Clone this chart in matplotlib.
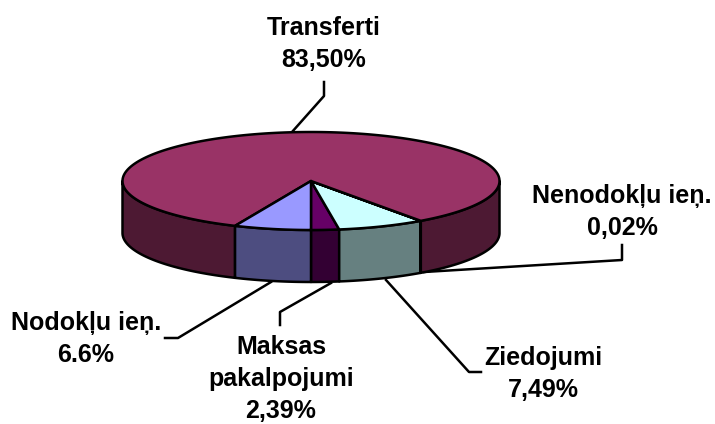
import matplotlib
matplotlib.use("Agg")
import matplotlib.pyplot as plt
import numpy as np

plt.rcParams['font.family'] = ['Liberation Sans', 'DejaVu Sans']

# clockwise order as seen from above, starting at the front of the pie
names = ["Maksas", "Ziedojumi", "Nenodokļu", "Transferti", "Nodokļu"]
values = [2.39, 7.49, 0.02, 83.50, 6.60]
top_colors = ['#660066', '#CCFFFF', '#FFFFCC', '#993366', '#9999FF']
side_colors = ['#330033', '#668080', '#808066', '#4D1933', '#4D4D80']

label_texts = ["Transferti\n83,50%", "Nenodokļu ieņ.\n0,02%", "Ziedojumi\n7,49%",
               "Maksas\npakalpojumi\n2,39%", "Nodokļu ieņ.\n6.6%"]
label_x = [324, 622, 543, 281, 86]
label_y = [44, 212, 374, 379, 339]

# leader lines in pixels
leaders = [
    ([292, 324, 324], [132, 96, 82]),
    ([424, 622, 622], [272, 260, 245]),
    ([386, 469, 481], [280, 372, 372]),
    ([331, 280, 280], [283, 312, 325]),
    ([271, 178, 165], [282, 338, 338]),
]

# pie geometry in pixels
cx, cy = 311, 181
rx, ry = 188.5, 49
depth = 52
lw = 1.8

fig = plt.figure(figsize=(7.15, 4.24), dpi=100)
ax = fig.add_axes([0, 0, 1, 1])
ax.set_xlim(0, 715)
ax.set_ylim(424, 0)
ax.axis('off')


def arc(a, b):
    t = np.radians(np.linspace(a, b, max(int(abs(b - a)) * 2, 2)))
    return cx + rx * np.sin(t), cy + ry * np.cos(t)


def side(a, b, color):
    # only the front half of the rim is visible
    x, y = arc(a, b)
    ax.fill(np.r_[x, x[::-1]], np.r_[y, y[::-1] + depth], facecolor=color,
            edgecolor='black', lw=lw, joinstyle='round', zorder=2)


edges = np.r_[0, np.cumsum(values)] * 3.6

for i in range(len(values)):
    a, b = edges[i], edges[i + 1]
    if a < 90:
        side(a, min(b, 90), side_colors[i])
    if b > 270:
        side(max(a, 270), b, side_colors[i])

for i in range(len(values)):
    x, y = arc(edges[i], edges[i + 1])
    ax.fill(np.r_[cx, x], np.r_[cy, y], facecolor=top_colors[i],
            edgecolor='black', lw=lw, joinstyle='round', zorder=3)

for lx, ly in leaders:
    ax.plot(lx, ly, color='black', lw=lw, zorder=1)

for t, x, y in zip(label_texts, label_x, label_y):
    ax.text(x, y, t, ha='center', va='center', fontsize=18, fontweight='bold',
            linespacing=1.42, color='black')

fig.savefig("out.png", dpi=100)
plt.close()
